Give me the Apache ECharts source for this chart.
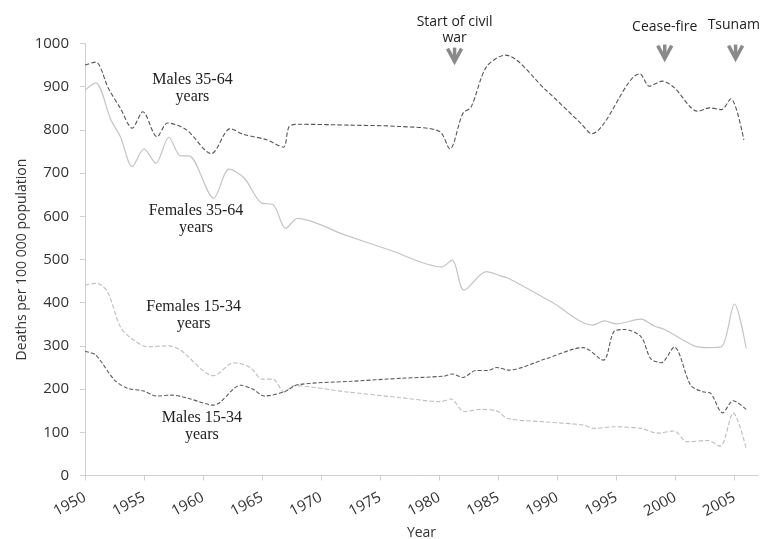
<!DOCTYPE html>
<html><head><meta charset="utf-8">
<script src="https://cdn.jsdelivr.net/npm/echarts@6/dist/echarts.min.js"></script>
<style>html,body{margin:0;padding:0;background:#fff}#c{width:760px;height:539px}</style>
</head><body><div id="c"></div>
<script>
// [year, deaths per 100 000]
var males3564 = [[1950,950],[1950.9,957],[1952,895],[1953,850],[1954,804],[1954.9,842],[1956.1,784],[1957,816],[1958.6,800],[1960.7,745],[1962.3,803],[1963.4,790],[1965.4,777],[1966.8,760],[1967.3,808],[1968.2,813],[1972.5,811],[1976.6,808],[1980,797],[1980.9,756],[1982,838],[1982.7,853],[1984,946],[1985.6,973],[1989,893],[1992,815],[1992.9,791],[1997,930],[1997.8,901],[1998.9,913],[1999.9,898],[2001.9,843],[2002.9,851],[2003.9,847],[2004.7,872],[2005.8,777]];
var females3564 = [[1950,892],[1950.9,909],[1952.2,823],[1953,784],[1954,715],[1955,756],[1956,723],[1957.1,783],[1958.1,740],[1958.8,740],[1960.9,642],[1962.2,709],[1963.5,688],[1965,630],[1965.9,628],[1967,572],[1968,595],[1972,557],[1975.8,522],[1980.2,483],[1981.1,499],[1982.1,429],[1984,472],[1985.2,462],[1985.9,456],[1989.5,402],[1993,348],[1994,358],[1995,351],[1997.1,362],[1998.2,346],[1999.1,338],[2001.6,300],[2002.7,296],[2003.9,298],[2005,397],[2006,294]];
var females1534 = [[1950,441],[1951,445],[1951.9,425],[1953,344],[1953.9,318],[1955.3,298],[1957.1,300],[1958.1,290],[1960.9,231],[1962.6,261],[1964,250],[1965,223],[1965.9,223],[1966.9,193],[1967.7,208],[1972,194],[1976.8,180],[1980.1,171],[1981,177],[1982.1,148],[1983.5,153],[1984.9,149],[1985.8,132],[1989,124],[1992.2,117],[1993.1,109],[1994.8,113],[1997.1,109],[1998.5,98],[1999.9,103],[2001,78],[2002.7,81],[2003.8,68],[2004.9,145],[2006,63]];
var males1534 = [[1950,287],[1950.9,279],[1952.5,221],[1953.6,202],[1954.9,196],[1956.1,184],[1957.3,186],[1958.7,179],[1960.9,163],[1963.2,209],[1964.2,200],[1965.2,184],[1966.9,194],[1968,210],[1972.5,218],[1976.8,225],[1980.4,230],[1981.1,235],[1982,227],[1983.1,243],[1984.1,243],[1984.9,250],[1985.9,244],[1989,270],[1992.2,296],[1993.9,267],[1994.8,333],[1995.7,338],[1997.1,321],[1997.9,271],[1998.8,261],[1999.9,297],[2001.3,209],[2002.3,194],[2003,190],[2004,145],[2004.9,173],[2006,153]];
var xTicks = [1950,1955,1960,1965,1970,1975,1980,1985,1990,1995,2000,2005];
var seriesLabels = ['Males 35-64\nyears','Females 35-64\nyears','Females 15-34\nyears','Males 15-34\nyears'];
var seriesLabelPos = [[1959.1,897],[1959.4,594],[1959.2,371],[1959.9,115]];
var eventNames = ['Start of civil\nwar','Cease-fire','Tsunami'];
var eventYears = [1981.3,1999.1,2005.1];
var eventArrowY = [972,979,979];
var eventTextY = [1031,1038,1043];

var chart = echarts.init(document.getElementById('c'));
var axisCol = '#d0d0d0', txtCol = '#333';
function line(name, data, color, type, w){
  return {name:name,type:'line',data:data,smooth:0.3,showSymbol:false,
    lineStyle:{color:color,width:w,type:type},itemStyle:{color:color}};
}
chart.setOption({
  animation:false,
  grid:{left:85,right:2,top:43.5,bottom:63.5,containLabel:false,outerBoundsMode:'none'},
  xAxis:{type:'value',min:1950,max:2007,interval:5,
    axisLine:{lineStyle:{color:axisCol}},
    axisTick:{show:true,length:5,lineStyle:{color:axisCol},customValues:xTicks},
    splitLine:{show:false},
    axisLabel:{rotate:28,color:txtCol,fontFamily:'Open Sans',fontSize:15,margin:21,customValues:xTicks,formatter:function(v){return String(v);}},
    name:'Year',nameLocation:'middle',nameGap:51,nameMoveOverlap:false,
    nameTextStyle:{color:txtCol,fontFamily:'Open Sans',fontSize:14}},
  yAxis:{type:'value',min:0,max:1000,interval:100,
    axisLine:{show:true,lineStyle:{color:axisCol}},
    axisTick:{show:true,length:5,lineStyle:{color:axisCol}},
    splitLine:{show:false},
    axisLabel:{color:txtCol,fontFamily:'Open Sans',fontSize:15,margin:16,formatter:function(v){return String(v);}},
    name:'Deaths per 100 000 population',nameLocation:'middle',nameGap:56,nameMoveOverlap:false,
    nameTextStyle:{color:txtCol,fontFamily:'Open Sans',fontSize:14}},
  series:[
    line('Males 35-64',males3564,'#555555','dashed',1.1),
    line('Females 35-64',females3564,'#c4c4c4','solid',1.2),
    line('Females 15-34',females1534,'#bdbdbd','dashed',1.1),
    line('Males 15-34',males1534,'#5a5a5a',[4,2],1.1)
  ]
});

var g = [];
seriesLabels.forEach(function(t,i){
  var p = chart.convertToPixel({gridIndex:0}, seriesLabelPos[i]);
  g.push({type:'text',x:p[0],y:p[1],style:{text:t,fill:'#222',font:'16px "Liberation Serif"',align:'center',verticalAlign:'middle',lineHeight:17}});
});
eventNames.forEach(function(t,i){
  var a = chart.convertToPixel({gridIndex:0}, [eventYears[i], eventArrowY[i]]);
  var tp = chart.convertToPixel({gridIndex:0}, [eventYears[i], eventTextY[i]]);
  g.push({type:'text',x:a[0],y:tp[1],style:{text:t,fill:'#222',font:'14px "Open Sans"',align:'center',verticalAlign:'middle',lineHeight:16.5}});
  g.push({type:'polyline',shape:{points:[[a[0]-7,a[1]-7],[a[0],a[1]+6],[a[0]+7,a[1]-7]]},style:{stroke:'#8a8a8a',lineWidth:3.5,fill:null}});
  g.push({type:'line',shape:{x1:a[0],y1:a[1]-8,x2:a[0],y2:a[1]+5},style:{stroke:'#8a8a8a',lineWidth:3.5}});
});
chart.setOption({graphic:g});
</script></body></html>
